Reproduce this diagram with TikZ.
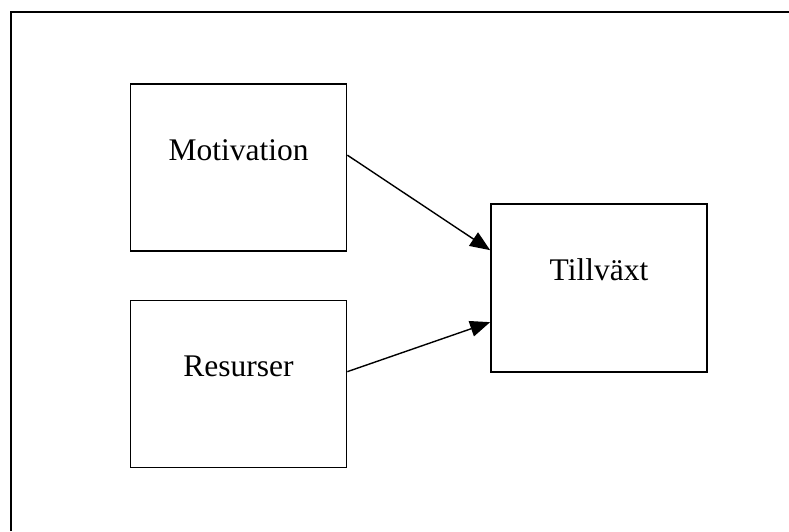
\documentclass[tikz,border=0pt]{standalone}
\usepackage{fontspec}
\setmainfont{Liberation Serif}
\usetikzlibrary{arrows.meta,calc}
\begin{document}
\begin{tikzpicture}[x=1pt,y=-1pt,
  line width=1.7pt,
  boxnode/.style={draw, minimum width=216pt, minimum height=167pt, inner sep=0pt},
  boxlabel/.style={anchor=base, yshift=-77pt, font=\fontsize{31.5}{36}\selectfont, inner sep=0pt},
  arr/.style={line width=1.4pt, -{Triangle[length=20pt,width=16pt]}}]
\useasboundingbox (0,0) rectangle (789,531);
\coordinate (fa) at (11,531);
\coordinate (fb) at (11,12);
\coordinate (fc) at (789,12);
\draw (fa) -- (fb) -- (fc);
\node[boxnode, label={[boxlabel]north:Motivation}] (mot) at (238.5,167.5) {};
\node[boxnode, label={[boxlabel]north:Resurser}] (res) at (238.5,384) {};
\node[boxnode, minimum height=168pt, label={[boxlabel]north:Tillväxt}] (till) at (599,288) {};
\draw[arr] ($(mot.north east)+(0,72)$) -- ($(till.north west)+(0,47)$);
\draw[arr] ($(res.north east)+(0,72)$) -- ($(till.north west)+(0,119)$);
\end{tikzpicture}
\end{document}
